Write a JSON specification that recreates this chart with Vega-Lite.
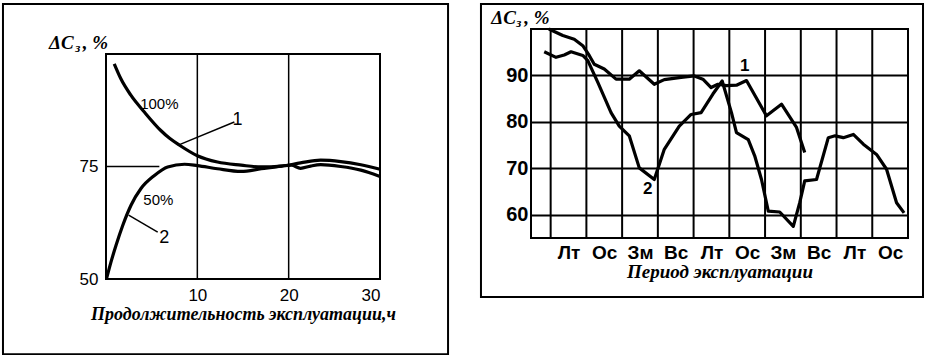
{
  "$schema": "https://vega.github.io/schema/vega-lite/v6.json",
  "background": "white",
  "padding": {"left": 1, "top": 1, "right": 0, "bottom": 0},
  "spacing": 28,
  "config": {
    "view": {"stroke": "black", "strokeWidth": 2},
    "font": "Liberation Sans",
    "axis": {"labelColor": "black", "titleColor": "black"}
  },
  "datasets": {
    "leftCurves": [
      {"s": "1", "x": 0.9, "y": 97.8}, {"s": "1", "x": 1.6, "y": 94.6}, {"s": "1", "x": 2.7, "y": 90.9},
      {"s": "1", "x": 4.2, "y": 87.1}, {"s": "1", "x": 6.0, "y": 83.0}, {"s": "1", "x": 7.0, "y": 81.2},
      {"s": "1", "x": 8.0, "y": 79.8}, {"s": "1", "x": 10.0, "y": 77.4}, {"s": "1", "x": 12.2, "y": 76.0},
      {"s": "1", "x": 14.8, "y": 75.3}, {"s": "1", "x": 17.0, "y": 74.9}, {"s": "1", "x": 19.2, "y": 75.1},
      {"s": "1", "x": 21.3, "y": 75.8}, {"s": "1", "x": 23.5, "y": 76.4}, {"s": "1", "x": 25.7, "y": 76.1},
      {"s": "1", "x": 27.9, "y": 75.4}, {"s": "1", "x": 30.0, "y": 74.4},
      {"s": "2", "x": 0.05, "y": 50.0}, {"s": "2", "x": 0.55, "y": 53.8}, {"s": "2", "x": 1.1, "y": 57.5},
      {"s": "2", "x": 1.83, "y": 61.9}, {"s": "2", "x": 2.74, "y": 66.4}, {"s": "2", "x": 3.83, "y": 70.1},
      {"s": "2", "x": 5.3, "y": 73.0}, {"s": "2", "x": 6.75, "y": 74.9}, {"s": "2", "x": 8.6, "y": 75.5},
      {"s": "2", "x": 10.0, "y": 75.2}, {"s": "2", "x": 12.2, "y": 74.5}, {"s": "2", "x": 14.8, "y": 73.9},
      {"s": "2", "x": 17.0, "y": 74.5}, {"s": "2", "x": 19.2, "y": 75.1}, {"s": "2", "x": 20.3, "y": 75.3},
      {"s": "2", "x": 21.3, "y": 74.6}, {"s": "2", "x": 22.4, "y": 75.1}, {"s": "2", "x": 23.5, "y": 75.4},
      {"s": "2", "x": 25.7, "y": 75.0}, {"s": "2", "x": 27.9, "y": 74.2}, {"s": "2", "x": 30.0, "y": 72.8}
    ],
    "rightCurves": [
      {"s": "1", "x": -0.05, "y": 100.0}, {"s": "1", "x": 0.34, "y": 98.6}, {"s": "1", "x": 0.66, "y": 97.8},
      {"s": "1", "x": 0.9, "y": 96.4}, {"s": "1", "x": 1.08, "y": 94.3}, {"s": "1", "x": 1.22, "y": 92.4},
      {"s": "1", "x": 1.5, "y": 91.4}, {"s": "1", "x": 1.83, "y": 89.2}, {"s": "1", "x": 2.2, "y": 89.2},
      {"s": "1", "x": 2.48, "y": 91.0}, {"s": "1", "x": 2.9, "y": 88.1}, {"s": "1", "x": 3.18, "y": 89.1},
      {"s": "1", "x": 3.65, "y": 89.6}, {"s": "1", "x": 4.02, "y": 89.9}, {"s": "1", "x": 4.26, "y": 89.2},
      {"s": "1", "x": 4.49, "y": 87.4}, {"s": "1", "x": 4.68, "y": 88.1}, {"s": "1", "x": 4.92, "y": 87.8},
      {"s": "1", "x": 5.2, "y": 87.9}, {"s": "1", "x": 5.48, "y": 88.9}, {"s": "1", "x": 6.04, "y": 81.3},
      {"s": "1", "x": 6.46, "y": 83.8}, {"s": "1", "x": 6.88, "y": 78.8}, {"s": "1", "x": 7.11, "y": 73.4},
      {"s": "2", "x": -0.18, "y": 95.1}, {"s": "2", "x": 0.15, "y": 93.9}, {"s": "2", "x": 0.38, "y": 94.4},
      {"s": "2", "x": 0.57, "y": 95.1}, {"s": "2", "x": 0.9, "y": 94.3}, {"s": "2", "x": 1.04, "y": 93.2},
      {"s": "2", "x": 1.32, "y": 88.5}, {"s": "2", "x": 1.69, "y": 82.0}, {"s": "2", "x": 1.92, "y": 79.1},
      {"s": "2", "x": 2.2, "y": 77.0}, {"s": "2", "x": 2.48, "y": 70.1}, {"s": "2", "x": 2.9, "y": 67.6},
      {"s": "2", "x": 3.18, "y": 74.1}, {"s": "2", "x": 3.6, "y": 79.1}, {"s": "2", "x": 3.93, "y": 81.6},
      {"s": "2", "x": 4.21, "y": 82.0}, {"s": "2", "x": 4.54, "y": 86.0}, {"s": "2", "x": 4.8, "y": 88.8},
      {"s": "2", "x": 5.06, "y": 82.0}, {"s": "2", "x": 5.2, "y": 77.7}, {"s": "2", "x": 5.53, "y": 76.2},
      {"s": "2", "x": 5.71, "y": 72.7}, {"s": "2", "x": 5.9, "y": 67.6}, {"s": "2", "x": 6.09, "y": 60.8},
      {"s": "2", "x": 6.41, "y": 60.6}, {"s": "2", "x": 6.79, "y": 57.5}, {"s": "2", "x": 6.97, "y": 62.6},
      {"s": "2", "x": 7.11, "y": 67.3}, {"s": "2", "x": 7.44, "y": 67.6}, {"s": "2", "x": 7.77, "y": 76.6},
      {"s": "2", "x": 7.96, "y": 77.0}, {"s": "2", "x": 8.19, "y": 76.6}, {"s": "2", "x": 8.47, "y": 77.3},
      {"s": "2", "x": 8.75, "y": 75.2}, {"s": "2", "x": 9.12, "y": 73.0}, {"s": "2", "x": 9.4, "y": 69.8},
      {"s": "2", "x": 9.68, "y": 62.6}, {"s": "2", "x": 9.89, "y": 60.4}
    ],
    "leftFrame": [{"x": -11.28, "x2": 37.45, "y": 33.3, "y2": 111.1}],
    "leftPlot": [{"x": 0, "x2": 30, "y": 50, "y2": 100}],
    "leftVGrid": [{"x": 10, "y": 50, "y2": 100}, {"x": 20, "y": 50, "y2": 100}],
    "rightFrame": [{"x": -1.95, "x2": 10.42, "y": 42.3, "y2": 105.4}],
    "leftRef": [{"x": 0, "x2": 5.84, "y": 75}],
    "leftLeaders": [
      {"x": 7.85, "y": 79.7, "x2": 14.05, "y2": 84.9},
      {"x": 2.48, "y": 64.2, "x2": 5.66, "y2": 60.4}
    ],
    "leftNums": [{"t": "1", "x": 14.4, "y": 85.4}, {"t": "2", "x": 6.39, "y": 59.1}],
    "leftPct": [{"t": "100%", "x": 5.84, "y": 88.8}, {"t": "50%", "x": 5.73, "y": 67.5}],
    "rightNums": [{"t": "1", "x": 5.43, "y": 92.0}, {"t": "2", "x": 2.72, "y": 65.5}],
    "rightGrid": [{"g": 0}, {"g": 1}, {"g": 2}, {"g": 3}, {"g": 4}, {"g": 5}, {"g": 6}, {"g": 7}, {"g": 8}, {"g": 9}],
    "leftTitleMain": [{"t": "ΔC", "x": -6.24, "y": 101.2}, {"t": ", %", "x": -2.55, "y": 101.2}],
    "leftTitleSub": [{"t": "з", "x": -3.38, "y": 100.4}],
    "rightTitleMain": [{"t": "ΔC", "x": -1.66, "y": 101.14}, {"t": ", %", "x": -0.74, "y": 101.14}],
    "rightTitleSub": [{"t": "з", "x": -0.96, "y": 100.4}]
  },
  "hconcat": [
    {
      "width": 274,
      "height": 250,
      "view": {"stroke": null},
      "layer": [
        {
          "data": {"name": "leftFrame"},
          "mark": {"type": "rect", "filled": false, "stroke": "black", "strokeWidth": 2},
          "encoding": {
            "x": {"field": "x", "type": "quantitative", "scale": {"domain": [0, 30], "nice": false, "zero": false},
              "axis": {"values": [10, 20, 30], "grid": false, "ticks": false, "domain": false, "labelFontSize": 17, "labelPadding": 8, "title": "Продолжительность эксплуатации,ч", "titleFont": "Liberation Serif", "titleFontStyle": "italic", "titleFontWeight": "bold", "titleFontSize": 18, "titlePadding": 2}},
            "x2": {"field": "x2"},
            "y": {"field": "y", "type": "quantitative", "scale": {"domain": [50, 105.56], "nice": false, "zero": false},
              "axis": {"values": [50, 75], "grid": false, "ticks": false, "domain": false, "labelFontSize": 17, "labelPadding": 8, "title": null}},
            "y2": {"field": "y2"}
          }
        },
        {
          "data": {"name": "leftPlot"},
          "mark": {"type": "rect", "filled": false, "stroke": "black", "strokeWidth": 2},
          "encoding": {
            "x": {"field": "x", "type": "quantitative", "scale": {"domain": [0, 30], "nice": false, "zero": false},
              "axis": {"values": [10, 20, 30], "grid": false, "ticks": false, "domain": false, "labelFontSize": 17, "labelPadding": 8, "title": "Продолжительность эксплуатации,ч", "titleFont": "Liberation Serif", "titleFontStyle": "italic", "titleFontWeight": "bold", "titleFontSize": 18, "titlePadding": 2}},
            "x2": {"field": "x2"},
            "y": {"field": "y", "type": "quantitative", "scale": {"domain": [50, 105.56], "nice": false, "zero": false},
              "axis": {"values": [50, 75], "grid": false, "ticks": false, "domain": false, "labelFontSize": 17, "labelPadding": 8, "title": null}},
            "y2": {"field": "y2"}
          }
        },
        {
          "data": {"name": "leftVGrid"},
          "mark": {"type": "rule", "stroke": "black", "strokeWidth": 1.5},
          "encoding": {
            "x": {"field": "x", "type": "quantitative", "scale": {"domain": [0, 30], "nice": false, "zero": false},
              "axis": {"values": [10, 20, 30], "grid": false, "ticks": false, "domain": false, "labelFontSize": 17, "labelPadding": 8, "title": "Продолжительность эксплуатации,ч", "titleFont": "Liberation Serif", "titleFontStyle": "italic", "titleFontWeight": "bold", "titleFontSize": 18, "titlePadding": 2}},
            "y": {"field": "y", "type": "quantitative", "scale": {"domain": [50, 105.56], "nice": false, "zero": false},
              "axis": {"values": [50, 75], "grid": false, "ticks": false, "domain": false, "labelFontSize": 17, "labelPadding": 8, "title": null}},
            "y2": {"field": "y2"}
          }
        },
        {
          "data": {"name": "leftRef"},
          "mark": {"type": "rule", "stroke": "black", "strokeWidth": 1.5},
          "encoding": {
            "x": {"field": "x", "type": "quantitative", "scale": {"domain": [0, 30], "nice": false, "zero": false},
              "axis": {"values": [10, 20, 30], "grid": false, "ticks": false, "domain": false, "labelFontSize": 17, "labelPadding": 8, "title": "Продолжительность эксплуатации,ч", "titleFont": "Liberation Serif", "titleFontStyle": "italic", "titleFontWeight": "bold", "titleFontSize": 18, "titlePadding": 2}},
            "x2": {"field": "x2"},
            "y": {"field": "y", "type": "quantitative", "scale": {"domain": [50, 105.56], "nice": false, "zero": false},
              "axis": {"values": [50, 75], "grid": false, "ticks": false, "domain": false, "labelFontSize": 17, "labelPadding": 8, "title": null}}
          }
        },
        {
          "data": {"name": "leftCurves"},
          "mark": {"type": "line", "interpolate": "monotone", "stroke": "black", "strokeWidth": 3.2},
          "encoding": {
            "x": {"field": "x", "type": "quantitative", "scale": {"domain": [0, 30], "nice": false, "zero": false},
              "axis": {"values": [10, 20, 30], "grid": false, "ticks": false, "domain": false, "labelFontSize": 17, "labelPadding": 8, "title": "Продолжительность эксплуатации,ч", "titleFont": "Liberation Serif", "titleFontStyle": "italic", "titleFontWeight": "bold", "titleFontSize": 18, "titlePadding": 2}},
            "y": {"field": "y", "type": "quantitative", "scale": {"domain": [50, 105.56], "nice": false, "zero": false},
              "axis": {"values": [50, 75], "grid": false, "ticks": false, "domain": false, "labelFontSize": 17, "labelPadding": 8, "title": null}},
            "detail": {"field": "s", "type": "nominal"}
          }
        },
        {
          "data": {"name": "leftLeaders"},
          "mark": {"type": "rule", "stroke": "black", "strokeWidth": 1.5},
          "encoding": {
            "x": {"field": "x", "type": "quantitative", "scale": {"domain": [0, 30], "nice": false, "zero": false},
              "axis": {"values": [10, 20, 30], "grid": false, "ticks": false, "domain": false, "labelFontSize": 17, "labelPadding": 8, "title": "Продолжительность эксплуатации,ч", "titleFont": "Liberation Serif", "titleFontStyle": "italic", "titleFontWeight": "bold", "titleFontSize": 18, "titlePadding": 2}},
            "x2": {"field": "x2"},
            "y": {"field": "y", "type": "quantitative", "scale": {"domain": [50, 105.56], "nice": false, "zero": false},
              "axis": {"values": [50, 75], "grid": false, "ticks": false, "domain": false, "labelFontSize": 17, "labelPadding": 8, "title": null}},
            "y2": {"field": "y2"}
          }
        },
        {
          "data": {"name": "leftNums"},
          "mark": {"type": "text", "fontSize": 18, "color": "black", "align": "center", "baseline": "middle"},
          "encoding": {
            "x": {"field": "x", "type": "quantitative", "scale": {"domain": [0, 30], "nice": false, "zero": false},
              "axis": {"values": [10, 20, 30], "grid": false, "ticks": false, "domain": false, "labelFontSize": 17, "labelPadding": 8, "title": "Продолжительность эксплуатации,ч", "titleFont": "Liberation Serif", "titleFontStyle": "italic", "titleFontWeight": "bold", "titleFontSize": 18, "titlePadding": 2}},
            "y": {"field": "y", "type": "quantitative", "scale": {"domain": [50, 105.56], "nice": false, "zero": false},
              "axis": {"values": [50, 75], "grid": false, "ticks": false, "domain": false, "labelFontSize": 17, "labelPadding": 8, "title": null}},
            "text": {"field": "t"}
          }
        },
        {
          "data": {"name": "leftPct"},
          "mark": {"type": "text", "fontSize": 15, "color": "black", "align": "center", "baseline": "middle"},
          "encoding": {
            "x": {"field": "x", "type": "quantitative", "scale": {"domain": [0, 30], "nice": false, "zero": false},
              "axis": {"values": [10, 20, 30], "grid": false, "ticks": false, "domain": false, "labelFontSize": 17, "labelPadding": 8, "title": "Продолжительность эксплуатации,ч", "titleFont": "Liberation Serif", "titleFontStyle": "italic", "titleFontWeight": "bold", "titleFontSize": 18, "titlePadding": 2}},
            "y": {"field": "y", "type": "quantitative", "scale": {"domain": [50, 105.56], "nice": false, "zero": false},
              "axis": {"values": [50, 75], "grid": false, "ticks": false, "domain": false, "labelFontSize": 17, "labelPadding": 8, "title": null}},
            "text": {"field": "t"}
          }
        },
        {
          "data": {"name": "leftTitleMain"},
          "mark": {"type": "text", "font": "Liberation Serif", "fontStyle": "italic", "fontWeight": "bold", "fontSize": 19, "color": "black", "align": "left", "baseline": "alphabetic"},
          "encoding": {
            "x": {"field": "x", "type": "quantitative", "scale": {"domain": [0, 30], "nice": false, "zero": false},
              "axis": {"values": [10, 20, 30], "grid": false, "ticks": false, "domain": false, "labelFontSize": 17, "labelPadding": 8, "title": "Продолжительность эксплуатации,ч", "titleFont": "Liberation Serif", "titleFontStyle": "italic", "titleFontWeight": "bold", "titleFontSize": 18, "titlePadding": 2}},
            "y": {"field": "y", "type": "quantitative", "scale": {"domain": [50, 105.56], "nice": false, "zero": false},
              "axis": {"values": [50, 75], "grid": false, "ticks": false, "domain": false, "labelFontSize": 17, "labelPadding": 8, "title": null}},
            "text": {"field": "t"}
          }
        },
        {
          "data": {"name": "leftTitleSub"},
          "mark": {"type": "text", "font": "Liberation Serif", "fontStyle": "italic", "fontWeight": "bold", "fontSize": 13, "color": "black", "align": "left", "baseline": "alphabetic"},
          "encoding": {
            "x": {"field": "x", "type": "quantitative", "scale": {"domain": [0, 30], "nice": false, "zero": false},
              "axis": {"values": [10, 20, 30], "grid": false, "ticks": false, "domain": false, "labelFontSize": 17, "labelPadding": 8, "title": "Продолжительность эксплуатации,ч", "titleFont": "Liberation Serif", "titleFontStyle": "italic", "titleFontWeight": "bold", "titleFontSize": 18, "titlePadding": 2}},
            "y": {"field": "y", "type": "quantitative", "scale": {"domain": [50, 105.56], "nice": false, "zero": false},
              "axis": {"values": [50, 75], "grid": false, "ticks": false, "domain": false, "labelFontSize": 17, "labelPadding": 8, "title": null}},
            "text": {"field": "t"}
          }
        }
      ]
    },
    {
      "width": 377,
      "height": 209,
      "layer": [
        {
          "data": {"name": "rightFrame"},
          "mark": {"type": "rect", "filled": false, "stroke": "black", "strokeWidth": 2},
          "encoding": {
            "x": {"field": "x", "type": "quantitative", "scale": {"domain": [-0.55, 10], "nice": false, "zero": false},
              "axis": {"values": [0.5, 1.5, 2.5, 3.5, 4.5, 5.5, 6.5, 7.5, 8.5, 9.5], "labelExpr": "['Лт','Ос','Зм','Вс','Лт','Ос','Зм','Вс','Лт','Ос'][floor(datum.value)]", "grid": false, "ticks": false, "domain": false, "labelFontSize": 19, "labelFontWeight": "bold", "labelPadding": 5, "title": "Период эксплуатации", "titleFont": "Liberation Serif", "titleFontStyle": "italic", "titleFontWeight": "bold", "titleFontSize": 19, "titlePadding": 0}},
            "x2": {"field": "x2"},
            "y": {"field": "y", "type": "quantitative", "scale": {"domain": [55, 100], "nice": false, "zero": false},
              "axis": {"values": [60, 70, 80, 90], "grid": true, "gridColor": "black", "gridWidth": 2, "gridOpacity": 1, "ticks": false, "domain": false, "labelFontSize": 20, "labelFontWeight": "bold", "labelPadding": 3, "title": null}},
            "y2": {"field": "y2"}
          }
        },
        {
          "data": {"name": "rightGrid"},
          "mark": {"type": "rule", "stroke": "black", "strokeWidth": 2},
          "encoding": {
            "x": {"field": "g", "type": "quantitative", "scale": {"domain": [-0.55, 10], "nice": false, "zero": false},
              "axis": {"values": [0.5, 1.5, 2.5, 3.5, 4.5, 5.5, 6.5, 7.5, 8.5, 9.5], "labelExpr": "['Лт','Ос','Зм','Вс','Лт','Ос','Зм','Вс','Лт','Ос'][floor(datum.value)]", "grid": false, "ticks": false, "domain": false, "labelFontSize": 19, "labelFontWeight": "bold", "labelPadding": 5, "title": "Период эксплуатации", "titleFont": "Liberation Serif", "titleFontStyle": "italic", "titleFontWeight": "bold", "titleFontSize": 19, "titlePadding": 0}}
          }
        },
        {
          "data": {"name": "rightCurves"},
          "mark": {"type": "line", "stroke": "black", "strokeWidth": 3.2, "strokeJoin": "round"},
          "encoding": {
            "x": {"field": "x", "type": "quantitative", "scale": {"domain": [-0.55, 10], "nice": false, "zero": false},
              "axis": {"values": [0.5, 1.5, 2.5, 3.5, 4.5, 5.5, 6.5, 7.5, 8.5, 9.5], "labelExpr": "['Лт','Ос','Зм','Вс','Лт','Ос','Зм','Вс','Лт','Ос'][floor(datum.value)]", "grid": false, "ticks": false, "domain": false, "labelFontSize": 19, "labelFontWeight": "bold", "labelPadding": 5, "title": "Период эксплуатации", "titleFont": "Liberation Serif", "titleFontStyle": "italic", "titleFontWeight": "bold", "titleFontSize": 19, "titlePadding": 0}},
            "y": {"field": "y", "type": "quantitative", "scale": {"domain": [55, 100], "nice": false, "zero": false},
              "axis": {"values": [60, 70, 80, 90], "grid": true, "gridColor": "black", "gridWidth": 2, "gridOpacity": 1, "ticks": false, "domain": false, "labelFontSize": 20, "labelFontWeight": "bold", "labelPadding": 3, "title": null}},
            "detail": {"field": "s", "type": "nominal"}
          }
        },
        {
          "data": {"name": "rightNums"},
          "mark": {"type": "text", "fontSize": 17, "fontWeight": "bold", "color": "black", "align": "center", "baseline": "middle"},
          "encoding": {
            "x": {"field": "x", "type": "quantitative", "scale": {"domain": [-0.55, 10], "nice": false, "zero": false},
              "axis": {"values": [0.5, 1.5, 2.5, 3.5, 4.5, 5.5, 6.5, 7.5, 8.5, 9.5], "labelExpr": "['Лт','Ос','Зм','Вс','Лт','Ос','Зм','Вс','Лт','Ос'][floor(datum.value)]", "grid": false, "ticks": false, "domain": false, "labelFontSize": 19, "labelFontWeight": "bold", "labelPadding": 5, "title": "Период эксплуатации", "titleFont": "Liberation Serif", "titleFontStyle": "italic", "titleFontWeight": "bold", "titleFontSize": 19, "titlePadding": 0}},
            "y": {"field": "y", "type": "quantitative", "scale": {"domain": [55, 100], "nice": false, "zero": false},
              "axis": {"values": [60, 70, 80, 90], "grid": true, "gridColor": "black", "gridWidth": 2, "gridOpacity": 1, "ticks": false, "domain": false, "labelFontSize": 20, "labelFontWeight": "bold", "labelPadding": 3, "title": null}},
            "text": {"field": "t"}
          }
        },
        {
          "data": {"name": "rightTitleMain"},
          "mark": {"type": "text", "font": "Liberation Serif", "fontStyle": "italic", "fontWeight": "bold", "fontSize": 19, "color": "black", "align": "left", "baseline": "alphabetic"},
          "encoding": {
            "x": {"field": "x", "type": "quantitative", "scale": {"domain": [-0.55, 10], "nice": false, "zero": false},
              "axis": {"values": [0.5, 1.5, 2.5, 3.5, 4.5, 5.5, 6.5, 7.5, 8.5, 9.5], "labelExpr": "['Лт','Ос','Зм','Вс','Лт','Ос','Зм','Вс','Лт','Ос'][floor(datum.value)]", "grid": false, "ticks": false, "domain": false, "labelFontSize": 19, "labelFontWeight": "bold", "labelPadding": 5, "title": "Период эксплуатации", "titleFont": "Liberation Serif", "titleFontStyle": "italic", "titleFontWeight": "bold", "titleFontSize": 19, "titlePadding": 0}},
            "y": {"field": "y", "type": "quantitative", "scale": {"domain": [55, 100], "nice": false, "zero": false},
              "axis": {"values": [60, 70, 80, 90], "grid": true, "gridColor": "black", "gridWidth": 2, "gridOpacity": 1, "ticks": false, "domain": false, "labelFontSize": 20, "labelFontWeight": "bold", "labelPadding": 3, "title": null}},
            "text": {"field": "t"}
          }
        },
        {
          "data": {"name": "rightTitleSub"},
          "mark": {"type": "text", "font": "Liberation Serif", "fontStyle": "italic", "fontWeight": "bold", "fontSize": 13, "color": "black", "align": "left", "baseline": "alphabetic"},
          "encoding": {
            "x": {"field": "x", "type": "quantitative", "scale": {"domain": [-0.55, 10], "nice": false, "zero": false},
              "axis": {"values": [0.5, 1.5, 2.5, 3.5, 4.5, 5.5, 6.5, 7.5, 8.5, 9.5], "labelExpr": "['Лт','Ос','Зм','Вс','Лт','Ос','Зм','Вс','Лт','Ос'][floor(datum.value)]", "grid": false, "ticks": false, "domain": false, "labelFontSize": 19, "labelFontWeight": "bold", "labelPadding": 5, "title": "Период эксплуатации", "titleFont": "Liberation Serif", "titleFontStyle": "italic", "titleFontWeight": "bold", "titleFontSize": 19, "titlePadding": 0}},
            "y": {"field": "y", "type": "quantitative", "scale": {"domain": [55, 100], "nice": false, "zero": false},
              "axis": {"values": [60, 70, 80, 90], "grid": true, "gridColor": "black", "gridWidth": 2, "gridOpacity": 1, "ticks": false, "domain": false, "labelFontSize": 20, "labelFontWeight": "bold", "labelPadding": 3, "title": null}},
            "text": {"field": "t"}
          }
        }
      ]
    }
  ]
}
